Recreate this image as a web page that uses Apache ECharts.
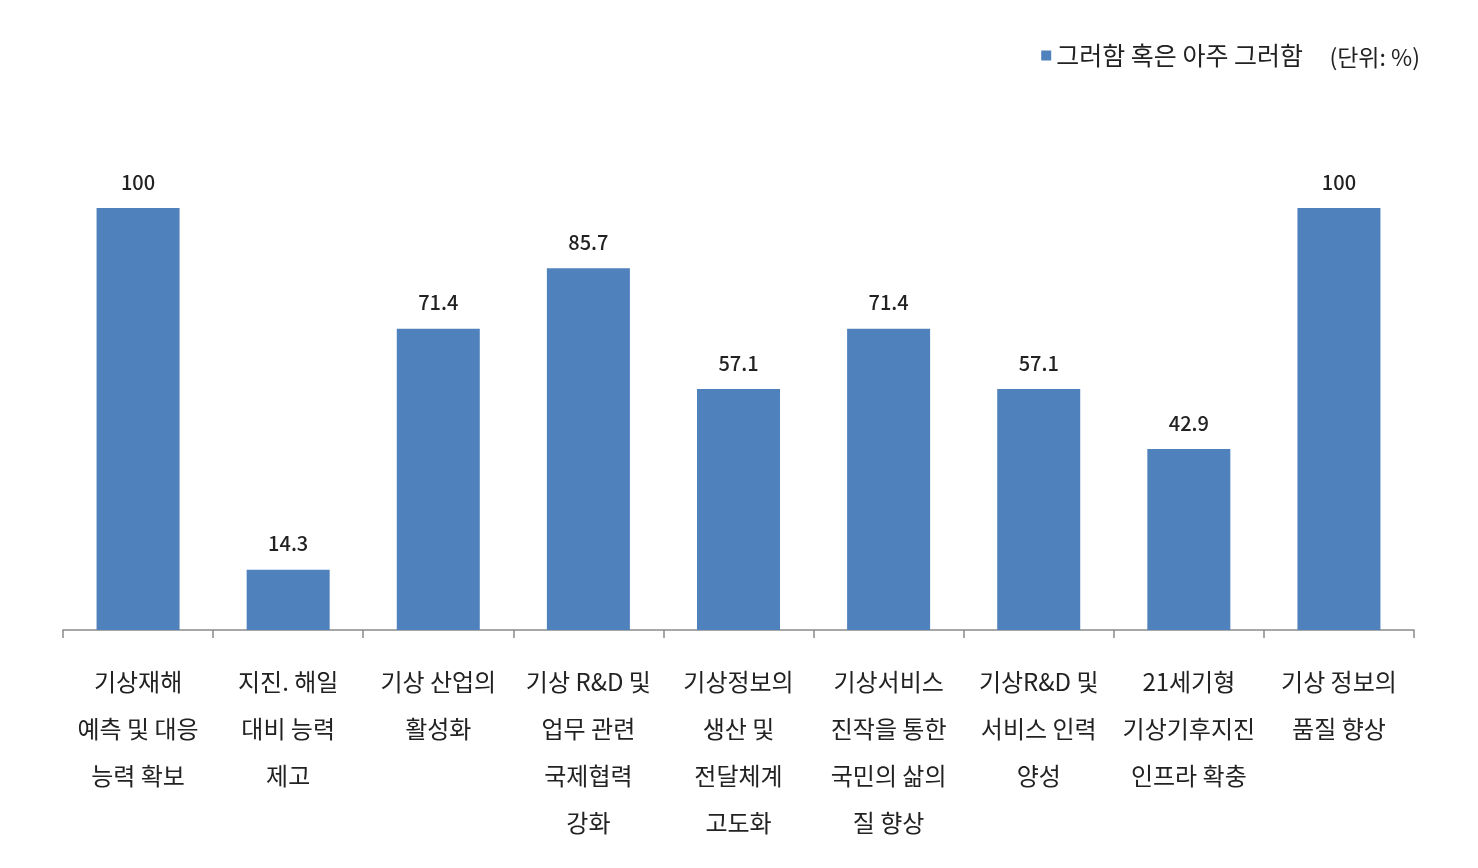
<!DOCTYPE html>
<html>
<head>
<meta charset="utf-8">
<script src="https://cdn.jsdelivr.net/npm/echarts@6/dist/echarts.min.js"></script>
<style>html,body{margin:0;padding:0;background:#fff}#c{width:1478px;height:868px}</style>
</head>
<body>
<div id="c"></div>
<script>
const categories = [
  '기상재해\n예측 및 대응\n능력 확보',
  '지진. 해일\n대비 능력\n제고',
  '기상 산업의\n활성화',
  '기상 R&D 및\n업무 관련\n국제협력\n강화',
  '기상정보의\n생산 및\n전달체계\n고도화',
  '기상서비스\n진작을 통한\n국민의 삶의\n질 향상',
  '기상R&D 및\n서비스 인력\n양성',
  '21세기형\n기상기후지진\n인프라 확충',
  '기상 정보의\n품질 향상'
];
const seriesName = '그러함 혹은 아주 그러함';
const values = [100, 14.3, 71.4, 85.7, 57.1, 71.4, 57.1, 42.9, 100];
const unitText = '(단위: %)';

const font = '"Noto Sans CJK KR", "Noto Sans", sans-serif';
const chart = echarts.init(document.getElementById('c'));
chart.setOption({
  animation: false,
  backgroundColor: '#fff',
  textStyle: { fontFamily: font },
  grid: { left: 63, right: 64, top: 208, bottom: 238 },
  legend: {
    right: 170, top: 38,
    icon: 'rect', itemWidth: 10, itemHeight: 10, itemGap: 7,
    textStyle: { fontSize: 25, color: '#222', fontFamily: font },
    data: [seriesName]
  },
  graphic: [{
    type: 'text', right: 58, top: 46,
    style: { text: unitText, fontSize: 23, fill: '#222', fontFamily: font }
  }],
  xAxis: {
    type: 'category',
    data: categories,
    axisLine: { lineStyle: { color: '#8a8a8a', width: 1.5 } },
    axisTick: { show: true, length: 8, alignWithLabel: false, lineStyle: { color: '#8a8a8a', width: 1.5 } },
    axisLabel: {
      interval: 0, margin: 28, fontSize: 24, lineHeight: 47, color: '#222',
      fontFamily: font, verticalAlign: 'top'
    }
  },
  yAxis: {
    type: 'value', min: 0, max: 100, interval: 20,
    show: false, splitLine: { show: false }
  },
  series: [{
    name: seriesName, type: 'bar', data: values, barWidth: 83,
    itemStyle: { color: '#4f81bd' },
    label: { show: true, position: 'top', distance: 16, fontSize: 20, fontWeight: 500, color: '#222', fontFamily: font }
  }]
});
</script>
</body>
</html>
